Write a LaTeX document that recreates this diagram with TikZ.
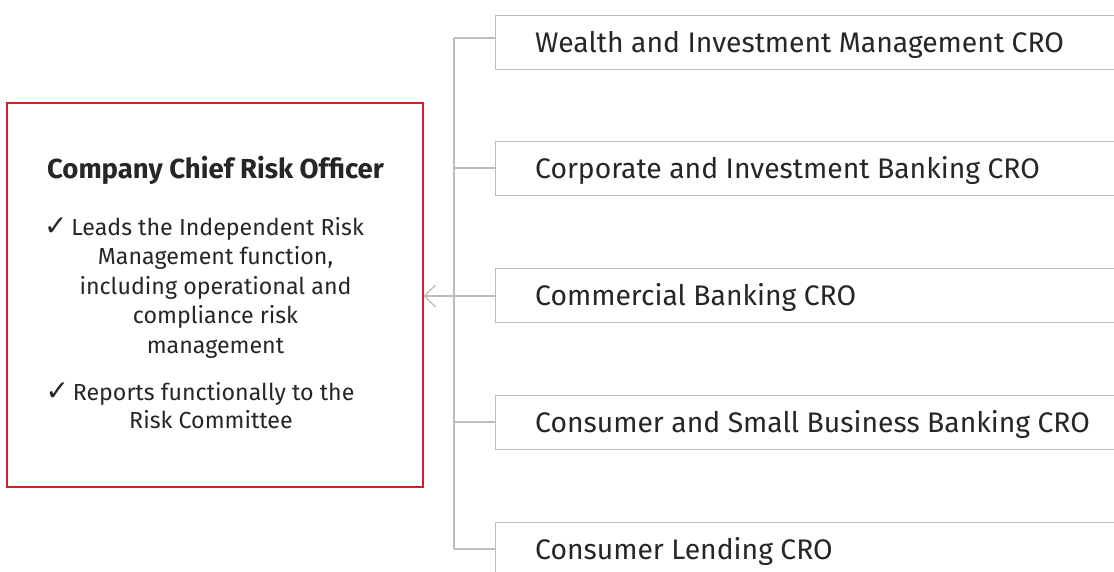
\documentclass[tikz,border=0pt]{standalone}
\usepackage{fontspec}
\setmainfont{Fira Sans}
\newfontfamily\symfont{DejaVu Sans}
\usetikzlibrary{arrows.meta}
\definecolor{wfred}{HTML}{D71E28}
\definecolor{linegray}{HTML}{BDBDBD}
\definecolor{txt}{HTML}{262626}
\tikzset{
  rbox/.style={draw=linegray, line width=1.2pt, minimum width=700pt, minimum height=54pt, anchor=north west, inner sep=0pt},
  rtext/.style={anchor=base west, text=txt, font=\fontsize{28.3}{32}\selectfont, inner sep=0pt},
  ltext/.style={anchor=base, text=txt, font=\fontsize{23.2}{29}\selectfont, inner sep=0pt},
  conn/.style={draw=linegray, line width=1.2pt},
  ceobox/.style={draw=wfred, line width=1.3pt, minimum width=416pt, minimum height=384pt, inner sep=0pt},
}
\newcommand{\chk}{{\symfont\fontsize{28}{30}\selectfont ✓}}
\begin{document}
\begin{tikzpicture}[x=1pt,y=-1pt]
\clip (0,0) rectangle (1114,571);
\fill[white] (0,0) rectangle (1114,571);
% CEO box
\node[ceobox] (ceo) at (215,295) {};
\node[ltext, font=\fontsize{27.5}{32}\selectfont\bfseries] (title) at (215.5,178) {Company Chief Risk Officer};
\node[ltext] (l1) at (204,235) {\chk\,Leads the Independent Risk};
\node[ltext] (l2) at (215.5,264.5) {Management function,};
\node[ltext] (l3) at (215.5,294) {including operational and};
\node[ltext] (l4) at (215.5,323.5) {compliance risk};
\node[ltext] (l5) at (215.5,353) {management};
\node[ltext] (l6) at (200,400) {\chk\,Reports functionally to the};
\node[ltext] (l7) at (211,428.5) {Risk Committee};
% right boxes
\node[rbox] (b1) at (495,15) {};
\node[rbox] (b2) at (495,141) {};
\node[rbox] (b3) at (495,268) {};
\node[rbox] (b4) at (495,395) {};
\node[rbox] (b5) at (495,522) {};
\node[rtext] (t1) at (535,52) {Wealth and Investment Management CRO};
\node[rtext] (t2) at (535,178) {Corporate and Investment Banking CRO};
\node[rtext] (t3) at (535,305) {Commercial Banking CRO};
\node[rtext] (t4) at (535,432) {Consumer and Small Business Banking CRO};
\node[rtext] (t5) at (535,559) {Consumer Lending CRO};
% spine
\coordinate (s1) at (454,38);
\coordinate (s2) at (454,168);
\coordinate (s3) at (454,296);
\coordinate (s4) at (454,422);
\coordinate (s5) at (454,549);
\draw[conn] (s1) -- (s5);
\draw[conn] (s1) -- (s1 -| b1.west);
\draw[conn] (s2) -- (s2 -| b2.west);
\draw[conn] (s3) -- (s3 -| b3.west);
\draw[conn] (s4) -- (s4 -| b4.west);
\draw[conn] (s5) -- (s5 -| b5.west);
\draw[conn, -{Straight Barb[length=11pt, width=22pt, line width=1.2pt]}] (s3) -- (s3 -| ceo.east);
\end{tikzpicture}
\end{document}
